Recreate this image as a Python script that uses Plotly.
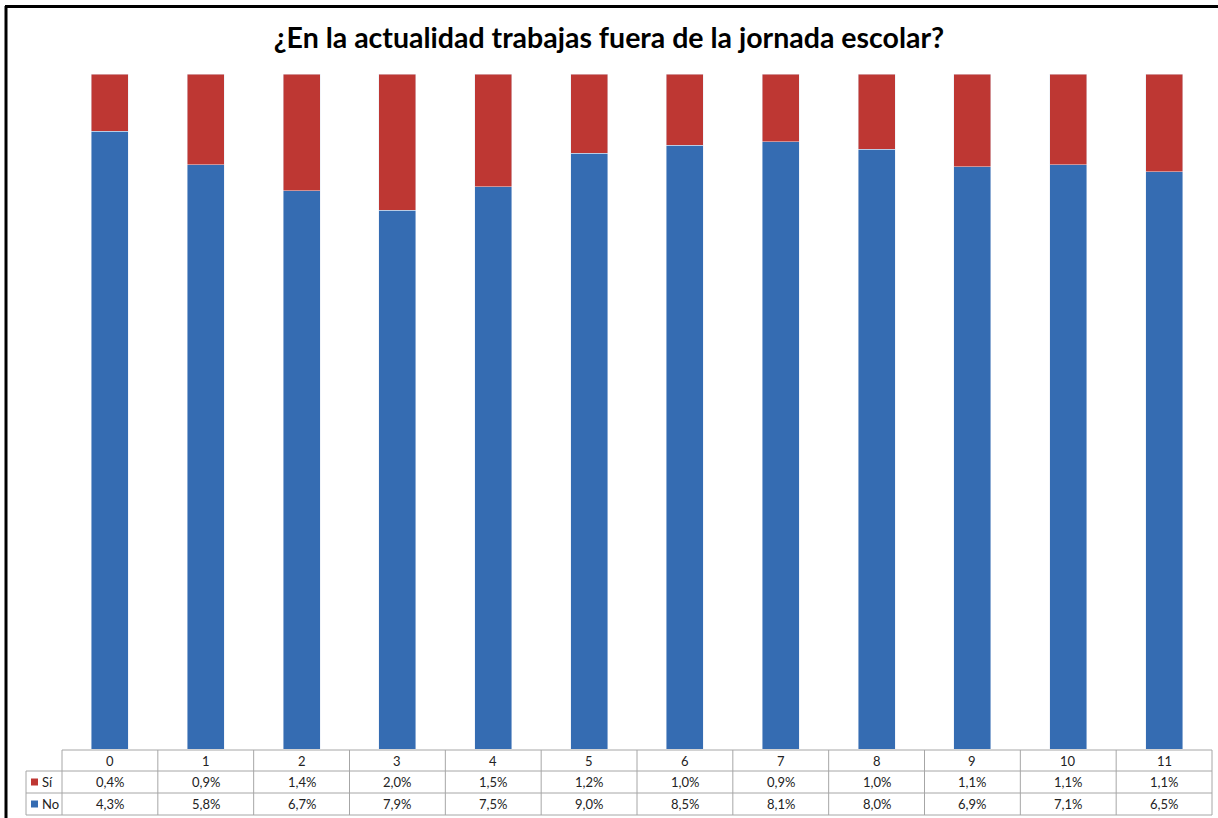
import plotly.graph_objects as go

# ---------------------------------------------------------------------------
# Data
# ---------------------------------------------------------------------------

CATEGORIES = ["0", "1", "2", "3", "4", "5", "6", "7", "8", "9", "10", "11"]
SI_VALUES = [0.4, 0.9, 1.4, 2.0, 1.5, 1.2, 1.0, 0.9, 1.0, 1.1, 1.1, 1.1]
NO_VALUES = [4.3, 5.8, 6.7, 7.9, 7.5, 9.0, 8.5, 8.1, 8.0, 6.9, 7.1, 6.5]
SERIES_NAMES = ["Sí", "No"]
TITLE = "¿En la actualidad trabajas fuera de la jornada escolar?"

# ---------------------------------------------------------------------------
# Style
# ---------------------------------------------------------------------------

BLUE = "#356CB2"
RED = "#BE3733"
GRID = "#A6A6A6"
FONT = "Lato, 'Open Sans', sans-serif"

W, H = 1218, 818
L, R, T, B = 62, 6, 74, 69
PW = W - L - R
PH = H - T - B


def px_x(x):
    return (x - L) / PW


def px_y(y):
    return (H - B - y) / PH


def fmt(v):
    return f"{v:.1f}%".replace(".", ",")


fig = go.Figure()
fig.add_trace(go.Bar(x=CATEGORIES, y=NO_VALUES, name=SERIES_NAMES[1], marker_color=BLUE))
fig.add_trace(go.Bar(x=CATEGORIES, y=SI_VALUES, name=SERIES_NAMES[0], marker_color=RED))

fig.update_layout(
    width=W, height=H,
    margin=dict(l=L, r=R, t=T, b=B),
    barmode="stack", barnorm="fraction", bargap=0.614,
    paper_bgcolor="white", plot_bgcolor="white",
    showlegend=False,
    font=dict(family=FONT, color="#222", size=13),
    title=dict(text=f"<b>{TITLE}</b>", x=0.5, xanchor="center", y=1 - 38 / H, yanchor="middle",
               font=dict(size=28.5, color="black", family=FONT)),
)
fig.update_xaxes(visible=False, range=[-0.5, len(CATEGORIES) - 0.5])
fig.update_yaxes(visible=False, range=[0, 1])

# ---------------------------------------------------------------------------
# Data table under the bars
# ---------------------------------------------------------------------------

shapes = []
annotations = []
n = len(CATEGORIES)
col_w = PW / n
x0_tab, x_lab = L, 26
rows_y = [750, 771, 793, 815]


def hline(xa, xb, y):
    shapes.append(dict(type="line", xref="paper", yref="paper", x0=px_x(xa), x1=px_x(xb),
                       y0=px_y(y), y1=px_y(y), line=dict(color=GRID, width=1)))


def vline(x, ya, yb):
    shapes.append(dict(type="line", xref="paper", yref="paper", x0=px_x(x), x1=px_x(x),
                       y0=px_y(ya), y1=px_y(yb), line=dict(color=GRID, width=1)))


def label(text, x, y, xanchor="center"):
    annotations.append(dict(text=text, x=x, y=y, xref="paper", yref="paper", showarrow=False,
                            xanchor=xanchor, yanchor="middle", font=dict(size=13)))


hline(x0_tab, L + PW, rows_y[0])
for y in rows_y[1:]:
    hline(x_lab, L + PW, y)
vline(x_lab, rows_y[1], rows_y[3])
for k in range(n + 1):
    vline(L + k * col_w, rows_y[0], rows_y[3])

row_values = [SI_VALUES, NO_VALUES]
row_colors = [RED, BLUE]
for i, cat in enumerate(CATEGORIES):
    cx = px_x(L + (i + 0.5) * col_w)
    label(cat, cx, px_y((rows_y[0] + rows_y[1]) / 2))
    for r, vals in enumerate(row_values):
        label(fmt(vals[i]), cx, px_y((rows_y[r + 1] + rows_y[r + 2]) / 2))

for r, name in enumerate(SERIES_NAMES):
    yc = (rows_y[r + 1] + rows_y[r + 2]) / 2
    shapes.append(dict(type="rect", xref="paper", yref="paper", x0=px_x(31), x1=px_x(38),
                       y0=px_y(yc + 3.5), y1=px_y(yc - 3.5), fillcolor=row_colors[r], line_width=0))
    label(name, px_x(40), px_y(yc), xanchor="left")

# outer frame (left and top edges)
shapes.append(dict(type="line", xref="paper", yref="paper", x0=px_x(6), x1=px_x(6),
                   y0=px_y(6), y1=px_y(H + 5), line=dict(color="black", width=3)))
shapes.append(dict(type="line", xref="paper", yref="paper", x0=px_x(5), x1=px_x(W + 5),
                   y0=px_y(6.5), y1=px_y(6.5), line=dict(color="black", width=3)))

fig.update_layout(shapes=shapes, annotations=annotations)

fig.write_html("out.html", config={"displayModeBar": False},
               post_script="document.body.style.margin='0';")
